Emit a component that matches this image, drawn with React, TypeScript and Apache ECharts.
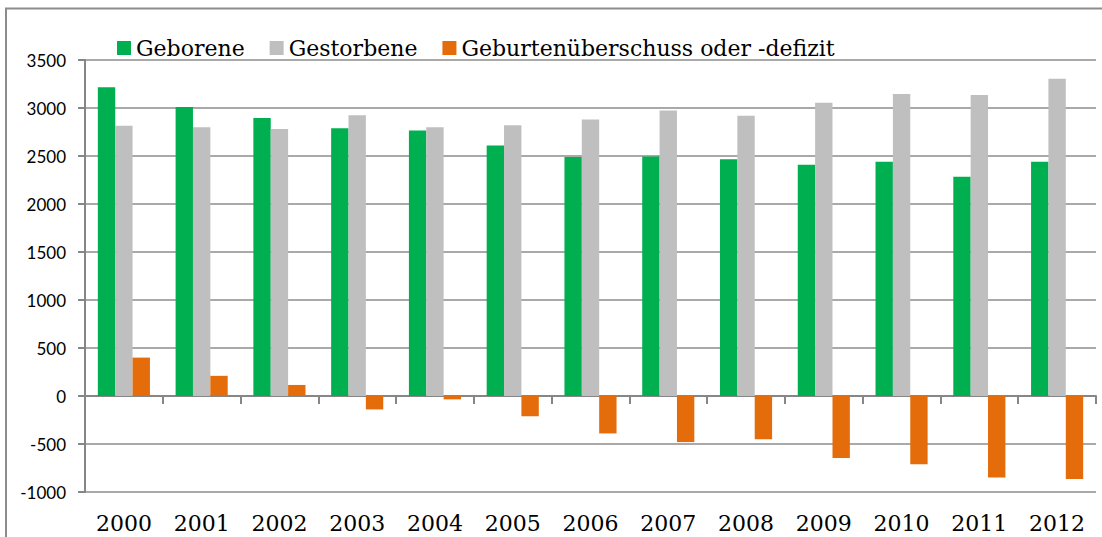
import React, { useEffect, useRef } from "react";
import * as echarts from "echarts";

const years = ["2000", "2001", "2002", "2003", "2004", "2005", "2006", "2007", "2008", "2009", "2010", "2011", "2012"];
const geborene = [3215, 3010, 2895, 2790, 2765, 2610, 2490, 2495, 2465, 2410, 2440, 2285, 2440];
const gestorbene = [2815, 2800, 2780, 2925, 2800, 2820, 2880, 2975, 2920, 3055, 3145, 3135, 3305];
const saldo = [400, 210, 115, -140, -35, -210, -390, -480, -450, -645, -710, -850, -865];
const seriesNames = ["Geborene", "Gestorbene", "Geburtenüberschuss oder -defizit"];
const colors = ["#00B050", "#BFBFBF", "#E46C0A"];

export default function App() {
  const ref = useRef<HTMLDivElement>(null);
  useEffect(() => {
    if (!ref.current) return;
    const chart = echarts.init(ref.current, undefined, { renderer: "svg" });
    const serif = "DejaVu Serif";
    chart.setOption({
      animation: false,
      backgroundColor: "#ffffff",
      color: colors,
      graphic: [
        {
          type: "rect",
          shape: { x: 6, y: 8.5, width: 1300, height: 800 },
          style: { fill: "none", stroke: "#8C8C8C", lineWidth: 2 },
          silent: true,
        },
      ],
      legend: {
        left: 112,
        top: 32,
        itemWidth: 14,
        itemHeight: 14,
        itemGap: 25,
        icon: "rect",
        textStyle: { fontFamily: serif, fontSize: 22, color: "#000" },
        data: seriesNames,
      },
      grid: { left: 85, right: 6, top: 60, bottom: 45, containLabel: false, outerBoundsMode: "none" },
      xAxis: {
        type: "category",
        data: years,
        axisLine: { onZero: true, lineStyle: { color: "#868686", width: 2 } },
        axisTick: { show: true, length: 8, lineStyle: { color: "#868686", width: 2 } },
        axisLabel: { margin: 20, fontFamily: serif, fontSize: 22, color: "#000" },
        splitLine: { show: false },
      },
      yAxis: {
        type: "value",
        min: -1000,
        max: 3500,
        interval: 500,
        axisLine: { show: true, lineStyle: { color: "#868686", width: 2 } },
        axisTick: { show: true, length: 7, lineStyle: { color: "#868686", width: 2 } },
        axisLabel: {
          margin: 19,
          fontFamily: "Lato",
          fontSize: 17,
          color: "#000",
          formatter: (v: number) => String(v),
        },
        splitLine: { lineStyle: { color: "#8C8C8C", width: 1.5 } },
      },
      series: [
        { name: seriesNames[0], type: "bar", data: geborene, barGap: "0%", barCategoryGap: "33%" },
        { name: seriesNames[1], type: "bar", data: gestorbene, barGap: "0%", barCategoryGap: "33%" },
        { name: seriesNames[2], type: "bar", data: saldo, barGap: "0%", barCategoryGap: "33%" },
      ],
    });
    return () => chart.dispose();
  }, []);
  return (
    <div
      ref={ref}
      style={{ position: "fixed", left: 0, top: 0, width: 1102, height: 537 }}
    />
  );
}
